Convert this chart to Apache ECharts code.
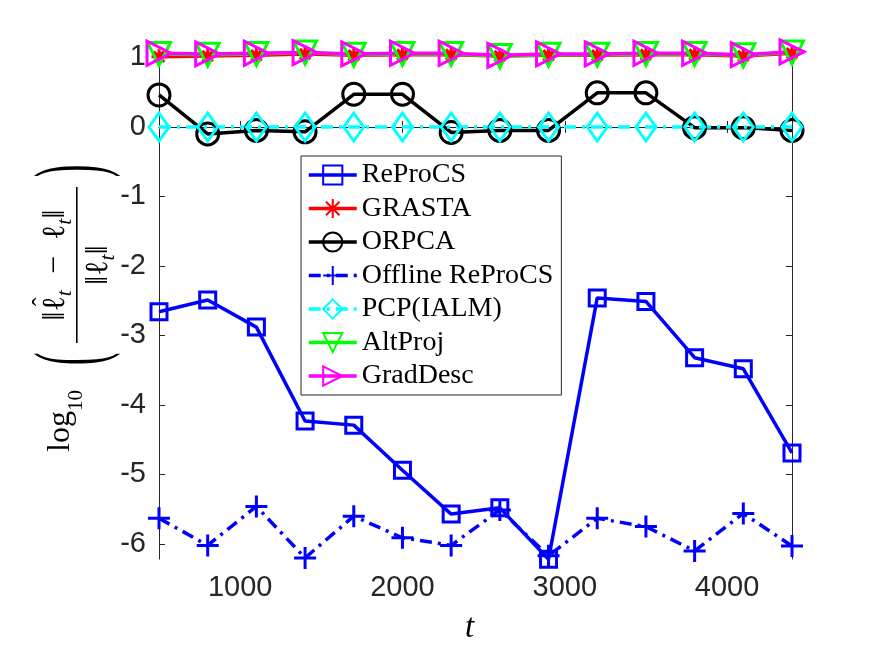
<!DOCTYPE html>
<html><head><meta charset="utf-8">
<script src="https://cdn.jsdelivr.net/npm/echarts@6/dist/echarts.min.js"></script>
<style>html,body{margin:0;padding:0;background:#fff}#c{width:875px;height:657px}</style>
</head><body><div id="c"></div>
<script>
// ---- data ----
const t = [500, 800, 1100, 1400, 1700, 2000, 2300, 2600, 2900, 3200, 3500, 3800, 4100, 4400];
const reprocs  = [-2.66, -2.49, -2.88, -4.23, -4.29, -4.94, -5.57, -5.48, -6.22, -2.46, -2.51, -3.32, -3.48, -4.69];
const grasta   = [1.01, 1.02, 1.03, 1.05, 1.03, 1.04, 1.04, 1.02, 1.03, 1.03, 1.04, 1.04, 1.02, 1.06];
const orpca    = [0.46, -0.10, -0.05, -0.07, 0.47, 0.47, -0.08, -0.05, -0.05, 0.49, 0.49, -0.01, -0.01, -0.05];
const offline  = [-5.63, -6.02, -5.46, -6.20, -5.60, -5.91, -6.02, -5.51, -6.17, -5.63, -5.75, -6.10, -5.56, -6.03];
const pcp      = [0, 0, 0, 0, 0, 0, 0, 0, 0, 0, 0, 0, 0, 0];
const altproj  = [1.05, 1.04, 1.05, 1.07, 1.04, 1.05, 1.05, 1.02, 1.04, 1.04, 1.05, 1.05, 1.03, 1.07];
const graddesc = [1.06, 1.05, 1.06, 1.07, 1.05, 1.06, 1.06, 1.03, 1.05, 1.05, 1.06, 1.06, 1.04, 1.08];
const names = ['ReProCS', 'GRASTA', 'ORPCA', 'Offline ReProCS', 'PCP(IALM)', 'AltProj', 'GradDesc'];
const xTicks = [1000, 2000, 3000, 4000];
const yTicks = [-6, -5, -4, -3, -2, -1, 0, 1];

const pts = v => t.map((x, i) => [x, v[i]]);
const axisColor = '#262626';
const TR = 'rgba(0,0,0,0)';

function ser(name, data, color, symbol, size, extra) {
  return Object.assign({
    name: name, type: 'line', data: pts(data), clip: false,
    symbol: symbol, symbolSize: size, showAllSymbol: true,
    lineStyle: { color: color, width: 3.5 },
    itemStyle: { color: TR, borderColor: color, borderWidth: 3 },
    emphasis: { disabled: true }, animation: false
  }, extra || {});
}

// ---- y-axis label (math) laid out piece by piece, in rotated local coords ----
const SERIF = '"Liberation Serif", "DejaVu Serif", serif';
const mctx = document.createElement('canvas').getContext('2d');
function fnt(size, italic) { return (italic ? 'italic ' : '') + size + 'px ' + SERIF; }
function row(pieces, cx, cy) {
  // pieces: [text, size, italic, dy, hat]
  const ws = pieces.map(p => { mctx.font = fnt(p[1], p[2]); return mctx.measureText(p[0]).width; });
  const total = ws.reduce((a, b) => a + b, 0);
  let x = cx - total / 2;
  const out = [];
  pieces.forEach((p, i) => {
    out.push({ type: 'text', x: x, y: cy + (p[3] || 0),
      style: { text: p[0], font: fnt(p[1], p[2]), fill: '#000', textAlign: 'left', textVerticalAlign: 'middle' } });
    if (p[4]) out.push({ type: 'text', x: x + ws[i] / 2 + 2, y: cy - 13,
      style: { text: 'ˆ', font: fnt(26, false), fill: '#000', textAlign: 'center', textVerticalAlign: 'middle' } });
    x += ws[i];
  });
  return out;
}
const numer = row([['‖', 32], ['ℓ', 32, false, 0, true], ['t', 22, true, 9], ['\u2002−\u2002', 32], ['ℓ', 32], ['t', 22, true, 9], ['‖', 32]], 45, -19);
const denom = row([['‖', 32], ['ℓ', 32], ['t', 22, true, 9], ['‖', 32]], 45, 24);

const chart = echarts.init(document.getElementById('c'), null, { renderer: 'canvas' });
const grid = { left: 159, right: 83, top: 52, bottom: 98 };
const tickLabel = { fontFamily: 'Liberation Sans', fontSize: 29, color: axisColor, formatter: v => String(v) };

chart.setOption({
  animation: false,
  backgroundColor: '#fff',
  grid: grid,
  xAxis: [
    { type: 'value', min: 500, max: 4400, position: 'bottom',
      axisLine: { show: true, lineStyle: { color: axisColor, width: 1 } },
      axisTick: { show: true, inside: true, length: 6, customValues: xTicks, lineStyle: { color: axisColor } },
      axisLabel: Object.assign({ customValues: xTicks, margin: 14 }, tickLabel),
      splitLine: { show: false } },
    { type: 'value', min: 500, max: 4400, position: 'top',
      axisLine: { show: true, lineStyle: { color: axisColor, width: 1 } },
      axisTick: { show: true, inside: true, length: 6, customValues: xTicks, lineStyle: { color: axisColor } },
      axisLabel: { show: false }, splitLine: { show: false } }
  ],
  yAxis: [
    { type: 'value', min: -6.216, max: 1.078, position: 'left',
      axisLine: { show: true, lineStyle: { color: axisColor, width: 1 } },
      axisTick: { show: true, inside: true, length: 6, customValues: yTicks, lineStyle: { color: axisColor } },
      axisLabel: Object.assign({ customValues: yTicks, margin: 13 }, tickLabel),
      splitLine: { show: false } },
    { type: 'value', min: -6.216, max: 1.078, position: 'right',
      axisLine: { show: true, lineStyle: { color: axisColor, width: 1 } },
      axisTick: { show: true, inside: true, length: 6, customValues: yTicks, lineStyle: { color: axisColor } },
      axisLabel: { show: false }, splitLine: { show: false } }
  ],
  legend: {
    orient: 'vertical', left: 301, top: 156,
    itemWidth: 48, itemHeight: 24, itemGap: 5.5,
    padding: [5, 8, 5, 6],
    borderColor: axisColor, borderWidth: 1, backgroundColor: '#fff',
    lineStyle: { width: 3.5 },
    textStyle: { fontFamily: 'Liberation Serif', fontSize: 28, lineHeight: 28, color: '#000' },
    data: names
  },
  series: [
    ser(names[0], reprocs, '#0000ff', 'rect', 16),
    ser(names[1], grasta, '#ff0000', 'path://M0 -10L0 10M-10 0L10 0M-7 -7L7 7M-7 7L7 -7', 15),
    ser(names[2], orpca, '#000000', 'circle', 22),
    ser(names[3], offline, '#0000ff', 'path://M0 -10L0 10M-10 0L10 0', 22,
        { lineStyle: { color: '#0000ff', width: 3.5, type: [12, 6, 3, 6] } }),
    ser(names[4], pcp, '#00ffff', 'diamond', [20, 28],
        { lineStyle: { color: '#00ffff', width: 3.5, type: [12, 6, 3, 6] } }),
    ser(names[5], altproj, '#00ff00', 'triangle', 23, { symbolRotate: 180 }),
    ser(names[6], graddesc, '#ff00ff', 'triangle', 24, { symbolRotate: -90 })
  ],
  graphic: [
    { type: 'text', left: 465, top: 612, style: { text: 't', font: 'italic 33px "Liberation Serif"', fill: '#000' } },
    { type: 'group', x: 75, y: 310, rotation: Math.PI / 2, children: [
      { type: 'text', x: -142, y: -14, style: { text: 'log', font: '32px "Liberation Serif"', fill: '#000', textAlign: 'left', textVerticalAlign: 'middle' } },
      { type: 'text', x: -101, y: 1, style: { text: '10', font: '21px "Liberation Serif"', fill: '#000', textAlign: 'left', textVerticalAlign: 'middle' } },
      { type: 'text', x: -49, y: 0, scaleY: 2.5, style: { text: '(', font: '38px "Liberation Serif"', fill: '#000', textAlign: 'center', textVerticalAlign: 'middle' } },
      { type: 'rect', shape: { x: -33, y: 1, width: 156, height: 1.6 }, style: { fill: '#000' } },
      { type: 'text', x: 139, y: 0, scaleY: 2.5, style: { text: ')', font: '38px "Liberation Serif"', fill: '#000', textAlign: 'center', textVerticalAlign: 'middle' } }
    ].concat(numer, denom) }
  ]
});
</script></body></html>
